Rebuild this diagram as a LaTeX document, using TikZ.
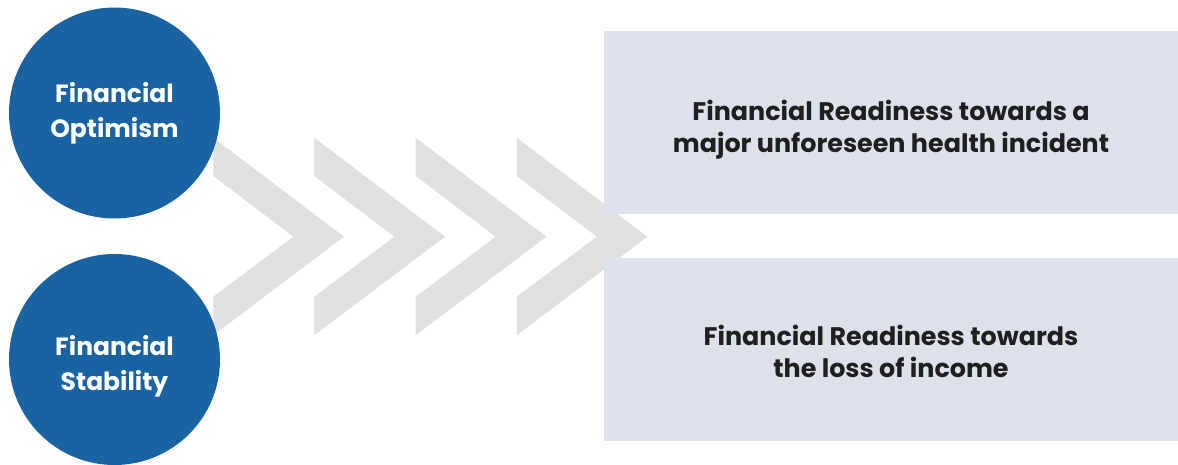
\documentclass[tikz,border=0pt]{standalone}
\usepackage{fontspec}
\setmainfont{Poppins}
\definecolor{cblue}{HTML}{1A63A2}
\definecolor{cgrey}{HTML}{E0E1DF}
\definecolor{cbox}{HTML}{DCE1EC}
\begin{document}
\begin{tikzpicture}[x=1pt,y=-1pt,
  circ/.style={circle,fill=cblue,minimum size=211pt,inner sep=0pt},
  ctext/.style={text=white,align=center,inner sep=0pt,font=\bfseries\fontsize{25}{35}\selectfont},
  rbox/.style={fill=cbox,minimum width=574pt,minimum height=183pt,inner sep=0pt},
  btext/.style={align=center,inner sep=0pt,font=\bfseries\fontsize{25.4}{32.5}\selectfont,text=black!88},
  chev/.style={fill=cgrey}]
\useasboundingbox (0,0) rectangle (1178,464);
\clip (0,0) rectangle (1178,464);
\foreach \x in {213.3,314.3,415.7,516.7}{
  \fill[chev] (\x,137.7) -- (\x+130.7,236.7) -- (\x,335.3) -- (\x,296.7) -- (\x+80,236.7) -- (\x,176) -- cycle;
}
\node[circ] (opt) at (114.5,113) {};
\node[ctext] (optt) at (114.5,113.5) {Financial\\Optimism};
\node[circ] (stab) at (114.5,359.5) {};
\node[ctext] (stabt) at (114.5,366.5) {Financial\\Stability};
\node[rbox,anchor=north west] (health) at (604,31) {};
\node[btext] (healtht) at (891,129.5) {Financial Readiness towards a\\major unforeseen health incident};
\node[rbox,anchor=north west] (income) at (604,257.5) {};
\node[btext] (incomet) at (891,351.5) {Financial Readiness towards\\the loss of income};
\end{tikzpicture}
\end{document}
